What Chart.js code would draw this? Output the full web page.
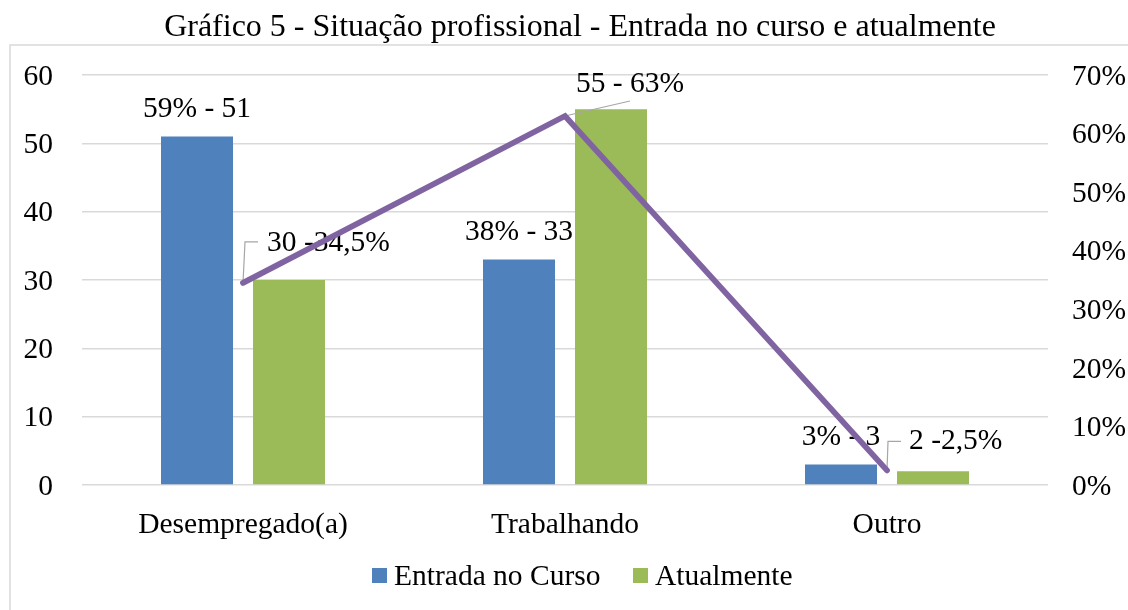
<!DOCTYPE html>
<html><head><meta charset="utf-8">
<script src="https://cdn.jsdelivr.net/npm/chart.js@4/dist/chart.umd.min.js"></script>
<style>html,body{margin:0;padding:0;background:#fff}</style>
</head><body>
<canvas id="c" width="1128" height="610"></canvas>
<script>
const chartTitle = 'Gráfico 5 - Situação profissional - Entrada no curso e atualmente';
const categories = ['Desempregado(a)', 'Trabalhando', 'Outro'];
const seriesNames = ['Entrada no Curso', 'Atualmente'];
const entradaNoCurso = [51, 33, 3];
const atualmente = [30, 55, 2];
const atualmentePct = [34.5, 63, 2.5];
const entradaLabels = ['59% - 51', '38% - 33', '3% - 3'];
const atualLabels = ['30 -34,5%', '55 - 63%', '2 -2,5%'];
const leftTicks = [0, 10, 20, 30, 40, 50, 60];
const rightTicks = [0, 10, 20, 30, 40, 50, 60, 70];

const BLUE = '#4F81BD', GREEN = '#9BBB59', PURPLE = '#8064A2';
const FONT = "'Liberation Serif', 'Times New Roman', serif";
const FS = 29.5;
const TFS = 32;

const decor = {
  id: 'decor',
  beforeDraw(chart) {
    const ctx = chart.ctx;
    ctx.save();
    ctx.fillStyle = '#fff';
    ctx.fillRect(0, 0, chart.width, chart.height);
    ctx.strokeStyle = '#D9D9D9';
    ctx.lineWidth = 1.5;
    ctx.strokeRect(10, 45, chart.width + 20, chart.height + 20);
    ctx.fillStyle = '#000';
    ctx.font = TFS + 'px ' + FONT;
    ctx.textAlign = 'center';
    ctx.textBaseline = 'alphabetic';
    ctx.fillText(chartTitle, 580, 36);
    const items = [[372, BLUE, seriesNames[0]], [633, GREEN, seriesNames[1]]];
    ctx.font = FS + 'px ' + FONT;
    ctx.textAlign = 'left';
    ctx.textBaseline = 'middle';
    items.forEach(([x, col, txt]) => {
      ctx.fillStyle = col;
      ctx.fillRect(x, 568, 15, 15);
      ctx.fillStyle = '#000';
      ctx.fillText(txt, x + 22, 577);
    });
    ctx.restore();
  },
  beforeDatasetDraw(chart, args) {
    if (args.index !== 2) return;
    const ctx = chart.ctx;
    ctx.save();
    ctx.font = FS + 'px ' + FONT;
    ctx.fillStyle = '#000';
    ctx.textBaseline = 'middle';
    ctx.textAlign = 'center';
    const bars = chart.getDatasetMeta(0).data;
    bars.forEach((b, i) => ctx.fillText(entradaLabels[i], b.x, b.y - 27));
    const pts = chart.getDatasetMeta(2).data;
    ctx.strokeStyle = '#A6A6A6';
    ctx.lineWidth = 1.2;
    let p = pts[0];
    ctx.beginPath(); ctx.moveTo(p.x, p.y); ctx.lineTo(p.x + 2, p.y - 41); ctx.lineTo(p.x + 15, p.y - 41); ctx.stroke();
    ctx.textAlign = 'left';
    ctx.fillText(atualLabels[0], p.x + 24, p.y - 40);
    p = pts[1];
    ctx.beginPath(); ctx.moveTo(p.x, p.y); ctx.lineTo(p.x + 65, p.y - 15); ctx.stroke();
    ctx.textAlign = 'center';
    ctx.fillText(atualLabels[1], p.x + 65, p.y - 32);
    p = pts[2];
    ctx.beginPath(); ctx.moveTo(p.x, p.y); ctx.lineTo(p.x + 1, p.y - 29); ctx.lineTo(p.x + 14, p.y - 29); ctx.stroke();
    ctx.textAlign = 'left';
    ctx.fillText(atualLabels[2], p.x + 22, p.y - 29);
    ctx.restore();
  }
};

new Chart(document.getElementById('c'), {
  type: 'bar',
  data: {
    labels: categories,
    datasets: [
      { label: seriesNames[0], data: entradaNoCurso, backgroundColor: BLUE, yAxisID: 'y', order: 1,
        categoryPercentage: 0.5714, barPercentage: 0.7826 },
      { label: seriesNames[1], data: atualmente, backgroundColor: GREEN, yAxisID: 'y', order: 1,
        categoryPercentage: 0.5714, barPercentage: 0.7826 },
      { type: 'line', label: '%', data: atualmentePct, borderColor: PURPLE, borderWidth: 5.8,
        pointRadius: 0, yAxisID: 'y1', order: 0, borderCapStyle: 'round' }
    ]
  },
  options: {
    responsive: false,
    animation: false,
    layout: { padding: { top: 75, left: 0, right: 0, bottom: 0 } },
    plugins: { legend: { display: false }, title: { display: false }, tooltip: { enabled: false } },
    scales: {
      x: {
        grid: { display: false }, border: { display: false },
        ticks: { color: '#000', font: { family: FONT, size: FS }, padding: 15, maxRotation: 0 },
        afterFit(s) { s.height = 125; }
      },
      y: {
        position: 'left', min: 0, max: 60,
        afterBuildTicks(s) { s.ticks = leftTicks.map(v => ({ value: v })); },
        grid: { color: '#D9D9D9', lineWidth: 1.5, drawTicks: false },
        border: { display: false },
        ticks: { color: '#000', font: { family: FONT, size: FS }, padding: 29, labelOffset: 2 },
        afterFit(s) { s.width = 82; }
      },
      y1: {
        position: 'right', min: 0, max: 70,
        afterBuildTicks(s) { s.ticks = rightTicks.map(v => ({ value: v })); },
        grid: { drawOnChartArea: false, drawTicks: false },
        border: { display: false },
        ticks: { color: '#000', font: { family: FONT, size: FS }, padding: 24, labelOffset: 2, callback: v => v + '%' },
        afterFit(s) { s.width = 80; }
      }
    }
  },
  plugins: [decor]
});
</script>
</body></html>
